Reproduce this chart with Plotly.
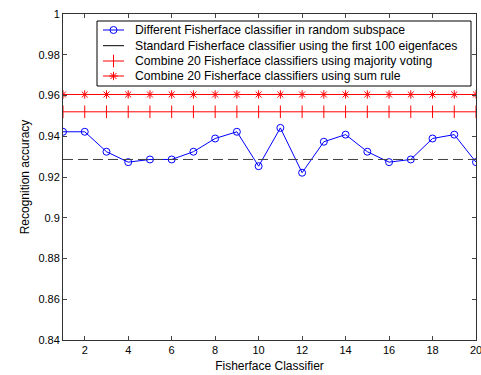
import plotly.graph_objects as go

classifiers = list(range(1, 21))
random_subspace = [0.9422, 0.9422, 0.9324, 0.9273, 0.9286, 0.9286, 0.9324, 0.9389, 0.9422, 0.9253,
                   0.9441, 0.9221, 0.9373, 0.9408, 0.9324, 0.9273, 0.9286, 0.9389, 0.9408, 0.9273]
standard_value = 0.9286
majority_value = 0.952
sum_rule_value = 0.9605

series_names = [
    "Different Fisherface classifier in random subspace",
    "Standard Fisherface classifier using the first 100 eigenfaces",
    "Combine 20 Fisherface classifiers using majority voting",
    "Combine 20 Fisherface classifiers using sum rule",
]

y_ticks = [0.84, 0.86, 0.88, 0.9, 0.92, 0.94, 0.96, 0.98, 1.0]
y_tick_labels = ["0.84", "0.86", "0.88", "0.9", "0.92", "0.94", "0.96", "0.98", "1"]
x_ticks = [2, 4, 6, 8, 10, 12, 14, 16, 18, 20]

font = "Liberation Sans, Arial, sans-serif"

BLUE = "#0000ff"
RED = "#ff0000"

blue_marker = dict(symbol="circle-open", size=7, color=BLUE, line=dict(width=1, color=BLUE))
plus_marker = dict(symbol="line-ns-open", size=9, color=RED, line=dict(width=1, color=RED))
star_marker = dict(symbol="asterisk-open", size=7, color=RED, line=dict(width=1, color=RED))

fig = go.Figure()
fig.add_trace(go.Scatter(
    x=classifiers, y=random_subspace, mode="lines+markers", name=series_names[0],
    line=dict(color=BLUE, width=1), marker=blue_marker,
))
fig.add_trace(go.Scatter(
    x=classifiers, y=[standard_value] * len(classifiers), mode="lines", name=series_names[1],
    line=dict(color="#404040", width=1, dash="10px,5px"),
))
fig.add_trace(go.Scatter(
    x=classifiers, y=[majority_value] * len(classifiers), mode="lines+markers", name=series_names[2],
    line=dict(color=RED, width=1), marker=plus_marker,
))
fig.add_trace(go.Scatter(
    x=classifiers, y=[sum_rule_value] * len(classifiers), mode="lines+markers", name=series_names[3],
    line=dict(color=RED, width=1), marker=star_marker,
))

# --- MATLAB-style legend box, drawn on an overlay axis in pixel units ---
box_x0, box_x1, box_y0, box_y1 = 97, 471, 21, 86
row_y = [30, 45.7, 61, 76]
sample_x0, sample_x1, sample_xc, text_x = 103, 124, 113.5, 133
sample_styles = [
    (BLUE, blue_marker),
    ("black", None),
    (RED, plus_marker),
    (RED, star_marker),
]
fig.add_shape(type="rect", xref="x2", yref="y2", x0=box_x0, x1=box_x1, y0=box_y0, y1=box_y1,
              line=dict(color="black", width=1), fillcolor="white", layer="below")
for name, ry, (col, mk) in zip(series_names, row_y, sample_styles):
    fig.add_trace(go.Scatter(
        x=[sample_x0, sample_x1], y=[ry, ry], mode="lines", xaxis="x2", yaxis="y2",
        line=dict(color=col, width=1), showlegend=False, hoverinfo="skip",
    ))
    if mk is not None:
        fig.add_trace(go.Scatter(
            x=[sample_xc], y=[ry], mode="markers", xaxis="x2", yaxis="y2",
            marker=mk, showlegend=False, hoverinfo="skip",
        ))
    fig.add_annotation(x=text_x, y=ry, xref="x2", yref="y2", text=name, showarrow=False,
                       xanchor="left", yanchor="middle", font=dict(size=12.2, family=font, color="black"))

fig.update_layout(
    width=481, height=375,
    margin=dict(l=63, r=5, t=14, b=35),
    paper_bgcolor="white", plot_bgcolor="white",
    font=dict(family=font, size=11, color="black"),
    showlegend=False,
    xaxis=dict(
        range=[1, 20], tickvals=x_ticks, ticks="inside", ticklen=4,
        showline=True, linecolor="#333333", linewidth=1, mirror="ticks",
        showgrid=False, zeroline=False, automargin=False, ticklabeloverflow="allow",
        title=dict(text="Fisherface Classifier", font=dict(size=12), standoff=6),
    ),
    yaxis=dict(
        range=[0.84, 1.0], tickvals=y_ticks, ticktext=y_tick_labels, ticks="inside", ticklen=4,
        showline=True, linecolor="#333333", linewidth=1, mirror="ticks",
        showgrid=False, zeroline=False, automargin=False, ticklabeloverflow="allow",
        title=dict(text="Recognition accuracy", font=dict(size=12), standoff=6),
    ),
    xaxis2=dict(range=[63, 476], overlaying="x", visible=False, fixedrange=True),
    yaxis2=dict(range=[340, 14], overlaying="y", visible=False, fixedrange=True),
)

fig.write_html("out.html", config={"displayModeBar": False})

with open("out.html", "r", encoding="utf-8") as f:
    html = f.read()
html = html.replace("<body>", '<body style="margin:0;padding:0;overflow:hidden">', 1)
with open("out.html", "w", encoding="utf-8") as f:
    f.write(html)
